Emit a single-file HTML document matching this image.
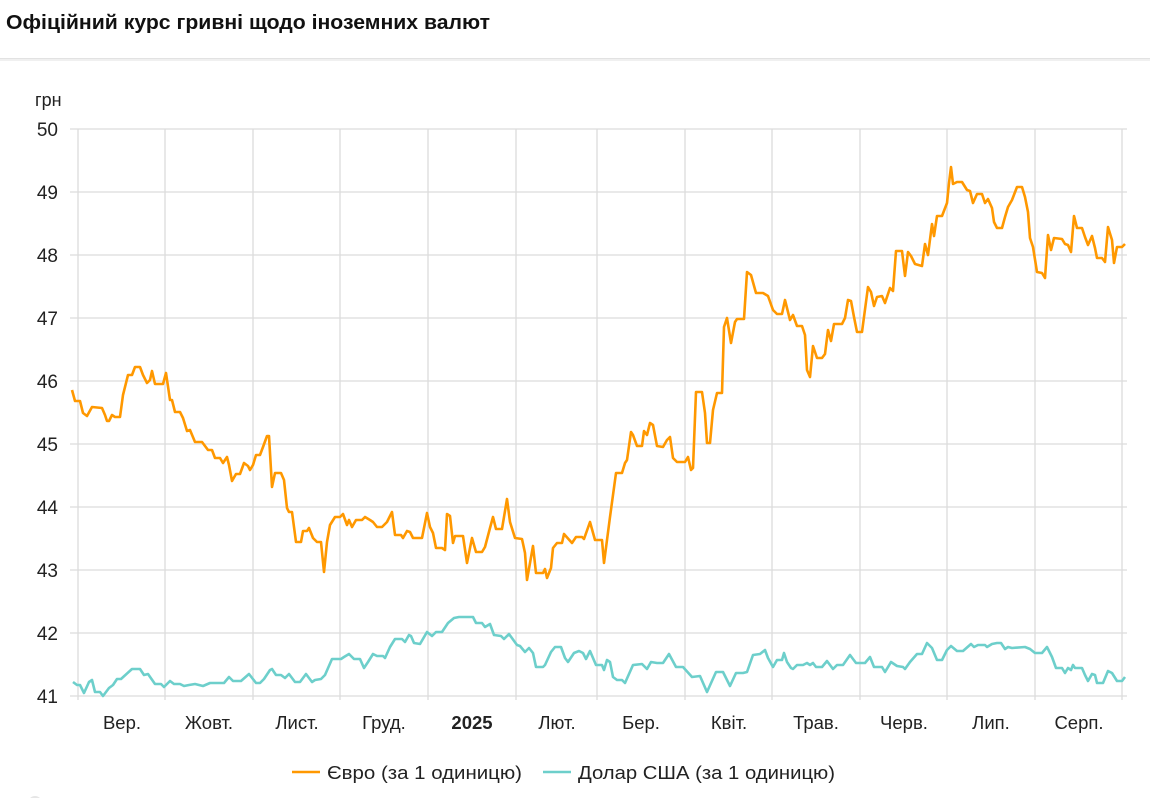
<!DOCTYPE html>
<html><head><meta charset="utf-8"><style>
html,body{margin:0;padding:0;background:#fff;width:1150px;height:798px;overflow:hidden;font-family:"Liberation Sans",sans-serif}
</style></head><body>
<svg width="1150" height="798" xmlns="http://www.w3.org/2000/svg" font-family="Liberation Sans, sans-serif">
<text x="6" y="29" font-size="20" font-weight="bold" fill="#111" textLength="484" lengthAdjust="spacingAndGlyphs">Офіційний курс гривні щодо іноземних валют</text>
<rect x="0" y="58" width="1150" height="1" fill="#e2e2e2"/>
<rect x="0" y="59" width="1150" height="2" fill="#f0f0f0"/>
<text x="35" y="106" font-size="18" fill="#222">грн</text>
<g stroke="#dcdcdc" stroke-width="1.3">
<line x1="70" y1="129" x2="1127" y2="129"/><line x1="70" y1="192" x2="1127" y2="192"/>
<line x1="70" y1="255" x2="1127" y2="255"/><line x1="70" y1="318" x2="1127" y2="318"/>
<line x1="70" y1="381" x2="1127" y2="381"/><line x1="70" y1="444" x2="1127" y2="444"/>
<line x1="70" y1="507" x2="1127" y2="507"/><line x1="70" y1="570" x2="1127" y2="570"/>
<line x1="70" y1="633" x2="1127" y2="633"/><line x1="70" y1="696" x2="1127" y2="696"/>
<line x1="78" y1="129" x2="78" y2="700"/><line x1="165" y1="129" x2="165" y2="700"/>
<line x1="253" y1="129" x2="253" y2="700"/><line x1="340" y1="129" x2="340" y2="700"/>
<line x1="428" y1="129" x2="428" y2="700"/><line x1="516" y1="129" x2="516" y2="700"/>
<line x1="597" y1="129" x2="597" y2="700"/><line x1="685" y1="129" x2="685" y2="700"/>
<line x1="772" y1="129" x2="772" y2="700"/><line x1="860" y1="129" x2="860" y2="700"/>
<line x1="947" y1="129" x2="947" y2="700"/><line x1="1035" y1="129" x2="1035" y2="700"/>
<line x1="1122" y1="129" x2="1122" y2="700"/>
</g>
<g font-size="19" fill="#222" text-anchor="end">
<text x="58" y="136">50</text><text x="58" y="199">49</text><text x="58" y="262">48</text>
<text x="58" y="325">47</text><text x="58" y="388">46</text><text x="58" y="451">45</text>
<text x="58" y="514">44</text><text x="58" y="577">43</text><text x="58" y="640">42</text>
<text x="58" y="703">41</text>
</g>
<g font-size="18.5" fill="#222" text-anchor="middle">
<text x="122" y="729">Вер.</text><text x="209" y="729">Жовт.</text><text x="297" y="729">Лист.</text>
<text x="384" y="729">Груд.</text><text x="472" y="729" font-weight="bold">2025</text><text x="557" y="729">Лют.</text>
<text x="641" y="729">Бер.</text><text x="729" y="729">Квіт.</text><text x="816" y="729">Трав.</text>
<text x="904" y="729">Черв.</text><text x="991" y="729">Лип.</text><text x="1079" y="729">Серп.</text>
</g>
<polyline fill="none" stroke="#6dcfcb" stroke-width="2.6" stroke-linejoin="round" points="73,682 77,685 80,685 84,693 89,682 92,680 95,692 100,692 103,696 109,688 113,685 117,679 121,679 132,669 140,669 144,675 148,674 155,684 161,684 164,687 170,681 174,684 180,684 184,686 189,685 195,684 203,686 210,683 218,683 224,683 229,677 233,681 241,681 249,674 256,683 260,683 264,679 270,670 272,669 276,675 281,675 285,678 289,674 295,682 300,682 306,674 312,682 315,680 321,679 325,675 332,659 341,659 344,657 349,654 354,659 360,659 364,668 368,662 373,654 377,656 383,656 385,658 390,647 395,639 402,639 405,642 409,635 411,636 414,643 420,644 427,632 432,636 436,632 442,632 448,623 454,618 459,617 467,617 473,617 476,623 482,623 485,627 490,624 494,635 501,636 504,639 509,634 517,645 520,646 525,652 529,648 533,653 536,667 543,667 545,665 551,652 555,647 561,647 565,658 568,662 574,653 579,651 583,653 586,659 590,651 596,665 602,665 604,670 607,660 610,662 613,677 617,680 622,680 625,683 633,665 642,664 647,669 651,662 657,663 663,663 669,654 676,667 683,667 692,677 700,676 707,692 716,672 723,672 730,686 736,673 743,673 747,672 753,655 760,654 765,650 768,658 773,667 777,660 782,660 784,653 787,662 791,668 793,669 797,665 803,665 807,663 810,665 813,663 816,667 822,667 827,661 833,669 837,665 843,665 850,655 856,663 865,663 870,657 874,667 882,667 885,672 891,662 897,666 903,667 905,669 910,662 917,654 922,654 927,643 932,648 937,660 942,660 947,650 951,646 957,651 963,651 971,644 974,647 978,645 985,645 987,647 992,644 997,643 1001,643 1005,649 1008,647 1012,648 1025,647 1030,649 1035,653 1042,653 1047,647 1052,657 1056,668 1062,668 1065,673 1068,668 1071,670 1073,665 1075,668 1082,668 1085,675 1088,681 1092,674 1095,675 1097,683 1103,683 1108,671 1112,673 1117,681 1122,681 1125,677"/>
<polyline fill="none" stroke="#ff9800" stroke-width="2.6" stroke-linejoin="round" points="72,390 75,401 80,401 83,413 87,416 92,407 102,408 105,415 107,421 109,421 112,415 115,417 120,417 123,395 128,375 132,375 135,367 140,367 143,375 147,383 150,380 152,371 155,384 163,384 166,373 170,400 172,400 175,412 180,412 183,418 187,431 190,430 195,442 202,442 208,450 212,450 215,458 220,458 223,463 227,457 229,465 232,481 236,474 240,474 244,463 248,466 250,470 253,465 256,455 260,455 263,447 267,436 269,436 272,487 275,473 281,473 284,480 287,508 289,512 292,512 296,542 301,542 303,531 307,531 309,528 313,538 317,542 321,542 324,572 327,542 330,525 335,517 340,517 343,514 347,525 349,520 352,527 356,520 362,520 365,517 370,520 373,522 377,527 382,527 387,522 392,512 395,535 401,535 403,538 407,531 410,532 413,538 422,538 427,513 430,527 433,533 436,548 442,548 445,550 447,514 450,516 453,543 455,536 463,536 467,563 472,538 476,552 482,552 485,547 490,528 493,517 496,529 502,529 507,499 510,522 515,538 522,539 525,553 527,580 533,546 536,573 543,573 545,569 547,578 551,568 553,548 557,543 562,543 564,534 572,543 576,537 582,537 584,539 590,522 595,540 602,540 604,563 610,517 616,473 622,473 625,463 627,460 631,432 633,435 637,446 642,446 644,431 647,435 650,423 653,425 657,446 663,447 667,440 670,437 673,458 677,462 685,462 688,457 691,470 693,468 696,392 702,392 705,413 707,443 710,443 713,410 717,393 722,393 724,327 727,318 731,343 735,322 737,319 744,319 747,272 751,275 756,293 763,293 768,296 773,310 777,314 782,314 785,300 790,320 793,315 797,326 802,326 805,335 807,370 810,377 813,346 817,358 822,358 825,354 828,330 831,341 834,324 842,324 845,318 848,300 851,301 854,317 857,332 862,332 868,287 871,292 874,306 877,297 882,296 885,303 890,288 893,291 896,251 902,251 905,276 908,252 911,256 915,264 922,266 925,244 928,255 932,224 934,236 937,216 942,216 947,203 949,183 951,167 953,184 957,182 962,182 967,190 970,191 973,203 977,194 982,194 985,203 988,199 992,208 994,222 997,228 1002,228 1005,217 1008,207 1012,200 1017,187 1022,187 1025,197 1028,212 1030,238 1033,247 1037,272 1042,273 1045,278 1048,235 1051,250 1054,238 1062,239 1065,244 1068,245 1071,252 1074,216 1077,228 1082,228 1085,237 1088,245 1092,236 1095,248 1097,258 1102,258 1105,262 1108,227 1112,240 1114,263 1117,247 1122,247 1125,244"/>
<line x1="292" y1="772" x2="320" y2="772" stroke="#ff9800" stroke-width="2.6"/>
<text x="327" y="779" font-size="18.5" fill="#222" textLength="195" lengthAdjust="spacingAndGlyphs">Євро (за 1 одиницю)</text>
<line x1="543" y1="772" x2="571" y2="772" stroke="#6dcfcb" stroke-width="2.6"/>
<text x="578" y="779" font-size="18.5" fill="#222" textLength="257" lengthAdjust="spacingAndGlyphs">Долар США (за 1 одиницю)</text>
<circle cx="35" cy="803" r="7" fill="#e6e6e6"/>
</svg>
</body></html>
